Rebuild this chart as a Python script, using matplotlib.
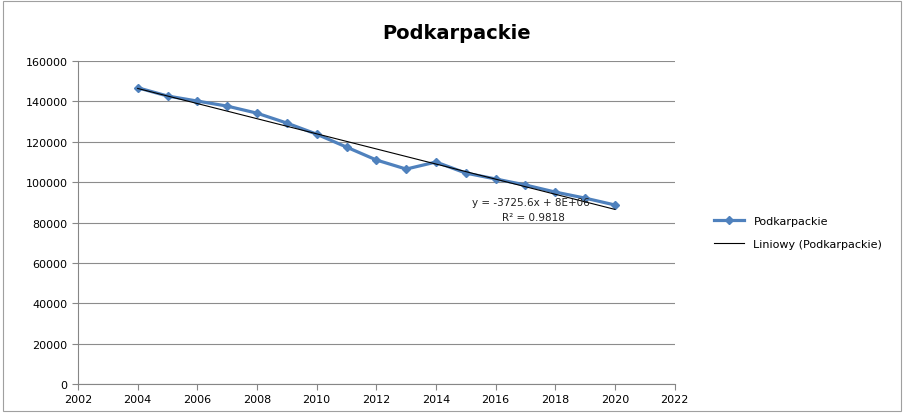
import matplotlib

matplotlib.use("Agg")
import matplotlib.pyplot as plt
import numpy as np

years = [2004, 2005, 2006, 2007, 2008, 2009, 2010, 2011, 2012, 2013,
         2014, 2015, 2016, 2017, 2018, 2019, 2020]
values = [146800, 142700, 140200, 137700, 134200, 129300, 123800, 117400, 111000,
          106500, 110000, 104500, 101600, 98600, 95100, 92100, 88700]
xticks = list(range(2002, 2023, 2))
yticks = list(range(0, 160001, 20000))

plt.rcParams["font.family"] = ["DejaVu Sans"]

fig = plt.figure(figsize=(9.04, 4.14), dpi=100)
ax = fig.add_axes([0.0863, 0.070, 0.660, 0.780])

ax.plot(years, values, "-D", color="#4f81bd", lw=2.3, ms=4.5, label="Podkarpackie", zorder=3)
coef = np.polyfit(years, values, 1)
xs = np.array([years[0], years[-1]])
ax.plot(xs, np.polyval(coef, xs), color="black", lw=0.8, label="Liniowy (Podkarpackie)", zorder=4)

ax.set_xlim(2002, 2022)
ax.set_ylim(0, 160000)
ax.set_xticks(xticks)
ax.set_yticks(yticks)
ax.tick_params(labelsize=8, length=4, color="#868686")
ax.grid(axis="y", color="#8c8c8c", lw=0.8)
ax.set_axisbelow(True)
for s in ("top", "right"):
    ax.spines[s].set_visible(False)
for s in ("left", "bottom"):
    ax.spines[s].set_color("#868686")

fig.text(0.522, 0.51, "y = -3725.6x + 8E+06", fontsize=7.5, ha="left", va="center", color="#222222")
fig.text(0.555, 0.474, "R² = 0.9818", fontsize=7.5, ha="left", va="center", color="#222222")

fig.text(0.505, 0.92, "Podkarpackie", fontsize=14, fontweight="bold", ha="center", va="center")
ax.legend(loc="center left", bbox_to_anchor=(1.05, 0.47), frameon=False, fontsize=8,
          handlelength=2.7, labelspacing=1.2)

fig.patches.append(plt.Rectangle((0.003, 0.005), 0.994, 0.99, transform=fig.transFigure,
                                 fill=False, edgecolor="#a0a0a0", lw=0.8))
fig.savefig("out.png", dpi=100)
